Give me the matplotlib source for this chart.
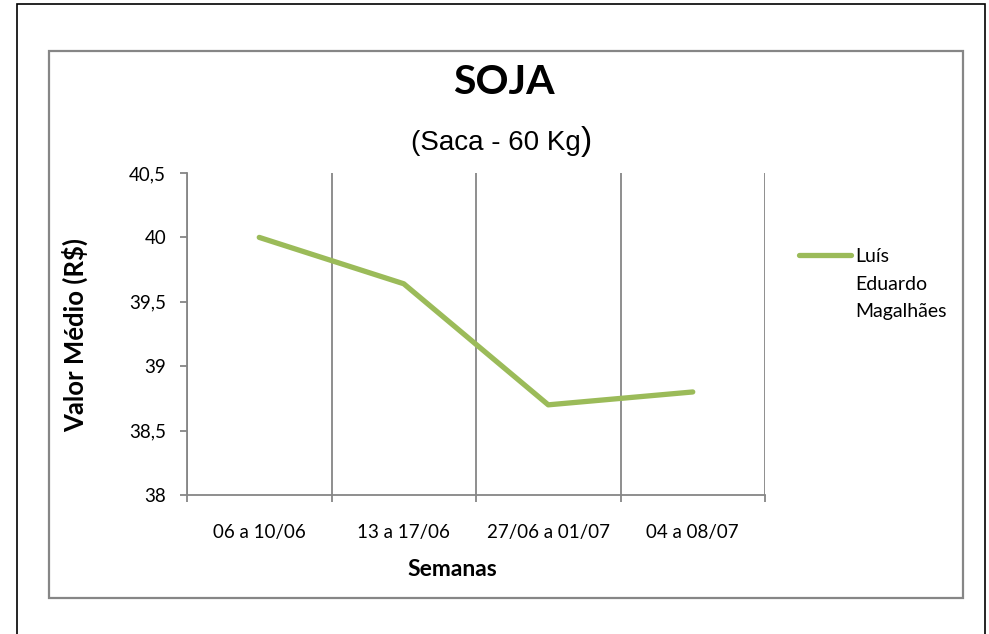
import matplotlib
matplotlib.use("Agg")
import matplotlib.pyplot as plt
from matplotlib.patches import Rectangle
from matplotlib.ticker import FixedLocator, FuncFormatter

categories = ["06 a 10/06", "13 a 17/06", "27/06 a 01/07", "04 a 08/07"]
values = [40.0, 39.64, 38.70, 38.80]
series_name = "Luís\nEduardo\nMagalhães"
y_ticks = [38, 38.5, 39, 39.5, 40, 40.5]

W, H = 989, 634
fig = plt.figure(figsize=(W / 100, H / 100), dpi=100)
plt.rcParams['font.family'] = ['Lato', 'DejaVu Sans']

def fx(x):
    return x / W

def fy(y):
    return 1 - y / H

# outer black border and gray chart border
fig.patches.append(Rectangle((fx(17), fy(660)), fx(985) - fx(17), fy(4) - fy(660),
                             transform=fig.transFigure, fill=False, edgecolor="black", linewidth=1.2))
fig.patches.append(Rectangle((fx(49), fy(598)), fx(963) - fx(49), fy(51) - fy(598),
                             transform=fig.transFigure, fill=False, edgecolor="#868686", linewidth=1.6))

ax = fig.add_axes([fx(187), fy(495), fx(765) - fx(187), fy(173) - fy(495)])
x = list(range(len(categories)))
line, = ax.plot(x, values, color="#9BBB59", linewidth=3.8, solid_capstyle="round",
                solid_joinstyle="round")

ax.set_xlim(-0.5, len(categories) - 0.5)
ax.set_ylim(38, 40.5)
ax.yaxis.set_major_locator(FixedLocator(y_ticks))
ax.yaxis.set_major_formatter(FuncFormatter(lambda v, p: (("%g" % v).replace(".", ","))))
ax.set_xticks(x)
ax.set_xticklabels(categories)
ax.set_xticks([i - 0.5 for i in range(len(categories) + 1)], minor=True)
ax.tick_params(axis="x", which="major", length=0, pad=21, labelsize=13.5, colors="black")
ax.tick_params(axis="x", which="minor", length=5, width=1.3, color="#868686", direction="out")
ax.tick_params(axis="y", length=5, width=1.3, color="#868686", labelsize=13.5, pad=10)
ax.grid(True, axis="x", which="minor", color="#868686", linewidth=1.3)
ax.grid(False, axis="y")
for s in ["top", "right"]:
    ax.spines[s].set_visible(False)
for s in ["left", "bottom"]:
    ax.spines[s].set_color("#868686")
    ax.spines[s].set_linewidth(1.3)

fig.text(fx(452), fy(570), "Semanas", ha="center", va="center", fontsize=16.5, fontweight="bold")
fig.text(fx(75), fy(335), "Valor Médio (R$)", ha="center", va="center", fontsize=18.5,
         fontweight="bold", rotation=90)

fig.text(fx(504), fy(83), "SOJA", ha="center", va="center", fontsize=29.5, fontweight="bold")
sub = fig.text(fx(411), fy(143), "(Saca - 60 Kg", ha="left", va="center", fontsize=20,
               family=["Liberation Sans", "DejaVu Sans"])
fig.canvas.draw()
bb = sub.get_window_extent()
fig.text(bb.x1 / W, fy(142), ")", ha="left", va="center", fontsize=24,
         family=["Liberation Sans", "DejaVu Sans"])

# legend
fig.lines.append(plt.Line2D([fx(799), fx(851)], [fy(255), fy(255)], transform=fig.transFigure,
                            color="#9BBB59", linewidth=3.8, solid_capstyle="round"))
for i, part in enumerate(series_name.split("\n")):
    fig.text(fx(855), fy(262 + 27.5 * i), part, ha="left", va="baseline", fontsize=14)

fig.savefig("out.png", dpi=100, facecolor="white")
